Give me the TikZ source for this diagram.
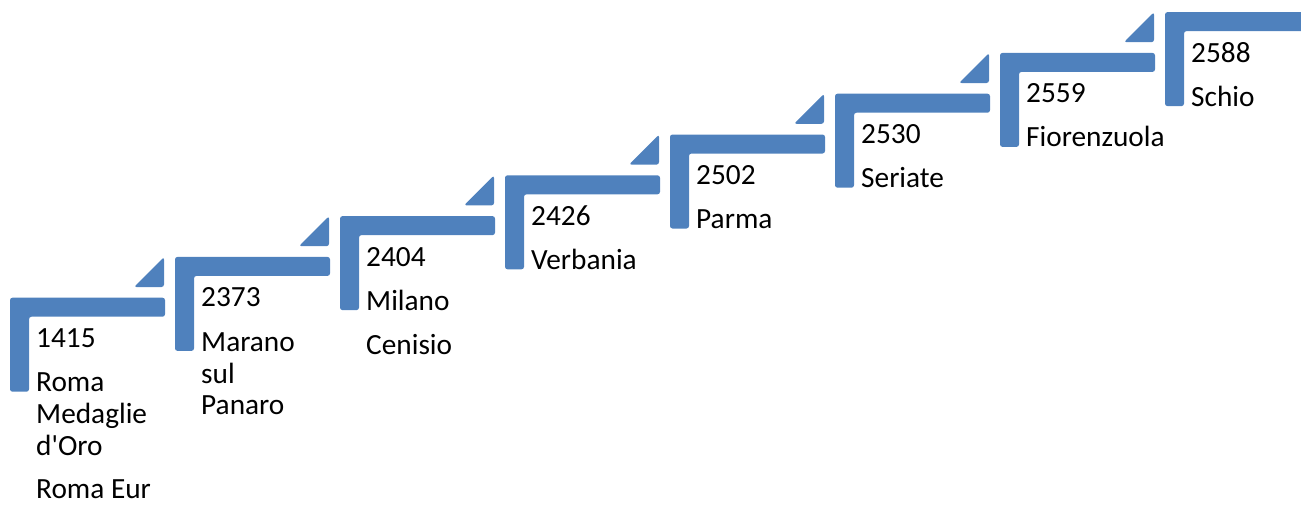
\documentclass[tikz,border=0pt]{standalone}
\usepackage{fontspec}
\setmainfont{Carlito}[Ligatures=TeXOff]
\usetikzlibrary{calc}
\definecolor{stepblue}{HTML}{4F81BD}
\tikzset{
  stepfill/.style={fill=stepblue, rounded corners=2.5pt},
  lbl/.style={anchor=base west, inner sep=0pt, font=\fontsize{29.3}{31.7}\selectfont, text=black}
}
\begin{document}
\begin{tikzpicture}[x=1pt,y=-1pt]
\useasboundingbox (0,0) rectangle (1301,504);
\clip (0,0) rectangle (1301,504);
\foreach \i in {1,...,8} {
  \pgfmathsetmacro\sx{10+165*(\i-1)}
  \pgfmathsetmacro\sy{297.7-40.8*(\i-1)}
  \begin{scope}[shift={(\sx,\sy)}]
    \coordinate (s\i) at (0,0);
    \fill[stepfill] (0,0) -- (155,0) -- (155,19) -- (19,19) -- (19,94) -- (0,94) -- cycle;
    \ifnum\i<8
      \fill[stepfill] (124,-10.7) -- (154,-10.7) -- (154,-40.7) -- cycle;
    \fi
  \end{scope}
}
% step 1
\node[lbl] (n1) at ($(s1)+(26,50)$) {1415};
\node[lbl] (a1) at ($(s1)+(26,94)$) {Roma};
\node[lbl] (b1) at ($(s1)+(26,125.7)$) {Medaglie};
\node[lbl] (c1) at ($(s1)+(26,157.4)$) {d'Oro};
\node[lbl] (d1) at ($(s1)+(26,201)$) {Roma Eur};
% step 2
\node[lbl] (n2) at ($(s2)+(26,50)$) {2373};
\node[lbl] (a2) at ($(s2)+(26,94.5)$) {Marano};
\node[lbl] (b2) at ($(s2)+(26,126.2)$) {sul};
\node[lbl] (c2) at ($(s2)+(26,157.9)$) {Panaro};
% step 3
\node[lbl] (n3) at ($(s3)+(26,50)$) {2404};
\node[lbl] (a3) at ($(s3)+(26,94)$) {Milano};
\node[lbl] (b3) at ($(s3)+(26,138)$) {Cenisio};
% step 4
\node[lbl] (n4) at ($(s4)+(26,50)$) {2426};
\node[lbl] (a4) at ($(s4)+(26,94)$) {Verbania};
% step 5
\node[lbl] (n5) at ($(s5)+(26,50)$) {2502};
\node[lbl] (a5) at ($(s5)+(26,94)$) {Parma};
% step 6
\node[lbl] (n6) at ($(s6)+(26,50)$) {2530};
\node[lbl] (a6) at ($(s6)+(26,94)$) {Seriate};
% step 7
\node[lbl] (n7) at ($(s7)+(26,50)$) {2559};
\node[lbl] (a7) at ($(s7)+(26,94)$) {Fiorenzuola};
% step 8
\node[lbl] (n8) at ($(s8)+(26,50)$) {2588};
\node[lbl] (a8) at ($(s8)+(26,94)$) {Schio};
\end{tikzpicture}
\end{document}
